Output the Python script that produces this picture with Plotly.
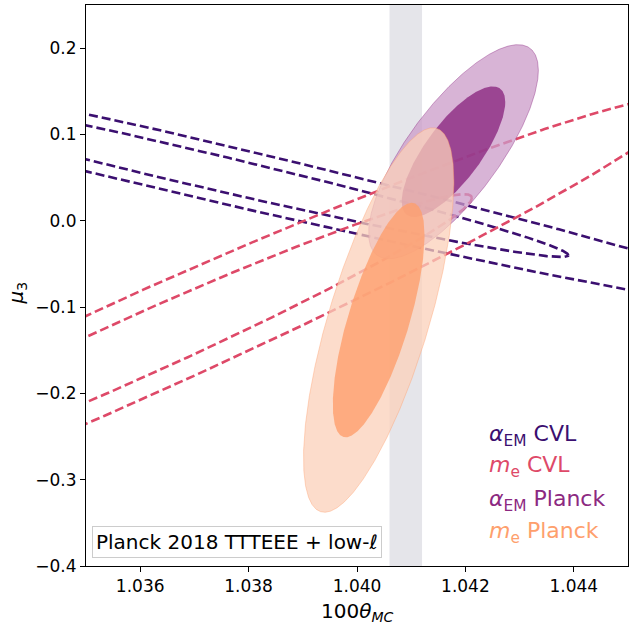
import numpy as np
import plotly.graph_objects as go

# Gaussian summaries (100*theta_MC, mu_3) for each constraint
labels = ["α_EM CVL", "m_e CVL", "α_EM Planck", "m_e Planck"]
mean_theta = [1.03690, 1.03597, 1.04178, 1.04040]
mean_mu3 = [0.0630, -0.1454, 0.0800, -0.1150]
sigma_theta = [0.004616, 0.004055, 0.000630, 0.000558]
sigma_mu3 = [0.06923, 0.11615, 0.04990, 0.08960]
rho = [-0.9802, 0.9758, 0.7600, 0.7200]

# 2D delta-chi2 levels for the 68% and 95% regions
levels = [2.30, 6.18]

# Planck theta_MC band (mean, half width)
band_center = 1.0409
band_half = 0.0003

x_ticks = [1.036, 1.038, 1.040, 1.042, 1.044]
y_ticks = [0.2, 0.1, 0.0, -0.1, -0.2, -0.3, -0.4]

colors = ["#3b0f70", "#de4968", "#8c2981", "#fe9f6d"]
# lighter shades used for the 95% filled regions
outer_fill = {2: "rgba(203,155,200,0.75)", 3: "rgba(251,208,186,0.75)"}
FONT = "DejaVu Sans"


def ellipse(i, k, n=721):
    cov = np.array([
        [sigma_theta[i] ** 2, rho[i] * sigma_theta[i] * sigma_mu3[i]],
        [rho[i] * sigma_theta[i] * sigma_mu3[i], sigma_mu3[i] ** 2],
    ])
    L = np.linalg.cholesky(cov)
    t = np.linspace(0, 2 * np.pi, n)
    pts = np.sqrt(k) * (L @ np.vstack([np.cos(t), np.sin(t)]))
    return pts[0] + mean_theta[i], pts[1] + mean_mu3[i]


def rgba(hexcol, a):
    h = hexcol.lstrip("#")
    r, g, b = int(h[0:2], 16), int(h[2:4], 16), int(h[4:6], 16)
    return f"rgba({r},{g},{b},{a})"


fig = go.Figure()

# cosmic-variance-limited forecasts: dashed contours
for i in (0, 1):
    for k in levels:
        x, y = ellipse(i, k)
        fig.add_trace(go.Scatter(
            x=x, y=y, mode="lines",
            line=dict(color=colors[i], width=2.6, dash="9px,4px"),
            hoverinfo="skip", showlegend=False,
        ))

# Planck constraints: filled contours
for i in (2, 3):
    xo, yo = ellipse(i, levels[1])
    fig.add_trace(go.Scatter(
        x=xo, y=yo, mode="lines", fill="toself",
        fillcolor=outer_fill[i],
        line=dict(color=rgba(colors[i], 0.4), width=1),
        hoverinfo="skip", showlegend=False,
    ))
    xi, yi = ellipse(i, levels[0])
    fig.add_trace(go.Scatter(
        x=xi, y=yi, mode="lines", fill="toself",
        fillcolor=rgba(colors[i], 0.8),
        line=dict(width=0),
        hoverinfo="skip", showlegend=False,
    ))

fig.add_shape(
    type="rect", xref="x", yref="paper",
    x0=band_center - band_half, x1=band_center + band_half, y0=0, y1=1,
    fillcolor="#e5e5ea", line=dict(width=0), layer="below",
)

# colored text legend
legend_html = [
    "<i>α</i><sub>EM</sub> CVL",
    "<i>m</i><sub>e</sub> CVL",
    "<i>α</i><sub>EM</sub> Planck",
    "<i>m</i><sub>e</sub> Planck",
]
legend_y = [0.2335, 0.1765, 0.1176, 0.0606]
for txt, yy, c in zip(legend_html, legend_y, colors):
    fig.add_annotation(
        xref="paper", yref="paper", x=0.740, y=yy,
        xanchor="left", yanchor="middle", showarrow=False,
        text=txt, font=dict(family=FONT, size=22, color=c),
    )

fig.add_annotation(
    xref="paper", yref="paper", x=0.011, y=0.014,
    xanchor="left", yanchor="bottom", showarrow=False,
    text="Planck 2018 TTTEEE + low-<i>ℓ</i>",
    font=dict(family=FONT, size=20, color="black"),
    bgcolor="white", bordercolor="#cccccc", borderwidth=1, borderpad=3,
)

# axis titles
fig.add_annotation(
    xref="paper", yref="paper", x=0.5, y=-0.0553,
    xanchor="center", yanchor="top", showarrow=False,
    text="100<i>θ</i><sub><i>MC</i></sub>",
    font=dict(family=FONT, size=20, color="black"),
)
fig.add_annotation(
    xref="paper", yref="paper", x=-0.128, y=0.487,
    xanchor="center", yanchor="middle", showarrow=False, textangle=-90,
    text="<i>μ</i><sub>3</sub>",
    font=dict(family=FONT, size=20, color="black"),
)

axis_common = dict(
    showgrid=False, zeroline=False, showline=True, mirror=True,
    linecolor="black", linewidth=1, ticks="outside", ticklen=5,
    tickwidth=1, tickcolor="black",
    tickfont=dict(family=FONT, size=17, color="black"),
)
fig.update_xaxes(range=[1.035, 1.045], tickvals=x_ticks,
                 ticktext=[f"{v:.3f}" for v in x_ticks], **axis_common)
fig.update_yaxes(range=[-0.4, 0.25], tickvals=y_ticks,
                 ticktext=[f"{v:.1f}".replace("-", "−") for v in y_ticks],
                 **axis_common)

fig.update_layout(
    width=632, height=624,
    margin=dict(l=86, r=4, t=5, b=58),
    plot_bgcolor="white", paper_bgcolor="white",
    font=dict(family=FONT),
)

fig.write_html("out.html")
